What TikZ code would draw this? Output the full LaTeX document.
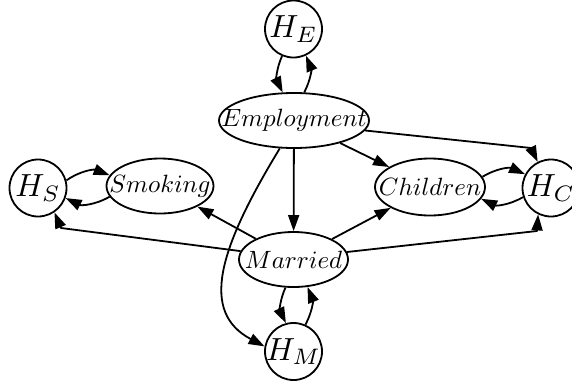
\documentclass[tikz,border=0pt]{standalone}
\usepackage{graphicx}
\usetikzlibrary{arrows.meta,shapes.geometric}
\newcommand{\varlabel}[1]{\makebox[0pt]{\scalebox{1.25}{$#1$}}}
\newcommand{\hlabel}[1]{\makebox[0pt]{\scalebox{1.6}{$#1$}}}
\begin{document}
\begin{tikzpicture}[x=0.5pt,y=-0.5pt,
  var/.style={draw, ellipse, line width=0.9pt, inner sep=0pt,
    minimum height=27.5pt},
  hid/.style={draw, circle, line width=0.9pt, inner sep=0pt,
    minimum size=28.5pt},
  arr/.style={-{Triangle[length=8pt,width=5.5pt]}, line width=0.9pt, line join=round},
]
\useasboundingbox (0,0) rectangle (572,386);

% variables
\node[hid] (HE) at (293.5,29) {\hlabel{H_E}};
\node[var, minimum width=75pt] (Emp) at (294,120.5) {\varlabel{Employment}};
\node[var, minimum width=53.5pt] (Smk) at (160,186) {\varlabel{Smoking}};
\node[hid] (HS) at (38,188) {\hlabel{H_S}};
\node[var, minimum width=55pt, minimum height=28.5pt] (Chi) at (430,187) {\varlabel{Children}};
\node[hid] (HC) at (551,188) {\hlabel{H_C}};
\node[var, minimum width=54.5pt] (Mar) at (293.5,259.5) {\varlabel{Married}};
\node[hid] (HM) at (293.5,351.5) {\hlabel{H_M}};

% paired links between each variable and its H node
\draw[arr] (HE.-113) to[bend right=25] (Emp.112);
\draw[arr] (Emp.70) to[bend right=25] (HE.-65);
\draw[arr] (HS.15) to[bend left=28] (Smk.168);
\draw[arr] (Smk.-168) to[bend left=28] (HS.-20);
\draw[arr] (Chi.11) to[bend left=28] (HC.152);
\draw[arr] (HC.-162) to[bend left=28] (Chi.-13);
\draw[arr] (Mar.-106) to[bend right=25] (HM.105);
\draw[arr] (HM.66) to[bend right=25] (Mar.-63);

% edges out of Employment
\draw[arr] (Emp) -- (Mar);
\draw[arr] (Emp) -- (Chi);
\coordinate (k1) at (531,148);
\draw[arr] (Emp.-8) -- (k1) -- (HC.117);
\draw[arr] (Emp.-117) .. controls (218,250) and (200,312) .. (HM.170);

% edges out of Married
\draw[arr] (Mar) -- (Smk);
\coordinate (k2) at (61,228);
\draw[arr] (Mar.171) -- (k2) -- (HS.-56);
\draw[arr] (Mar) -- (Chi);
\coordinate (k3) at (537,231);
\draw[arr] (Mar.8) -- (k3) -- (HC.-116);
\end{tikzpicture}
\end{document}
